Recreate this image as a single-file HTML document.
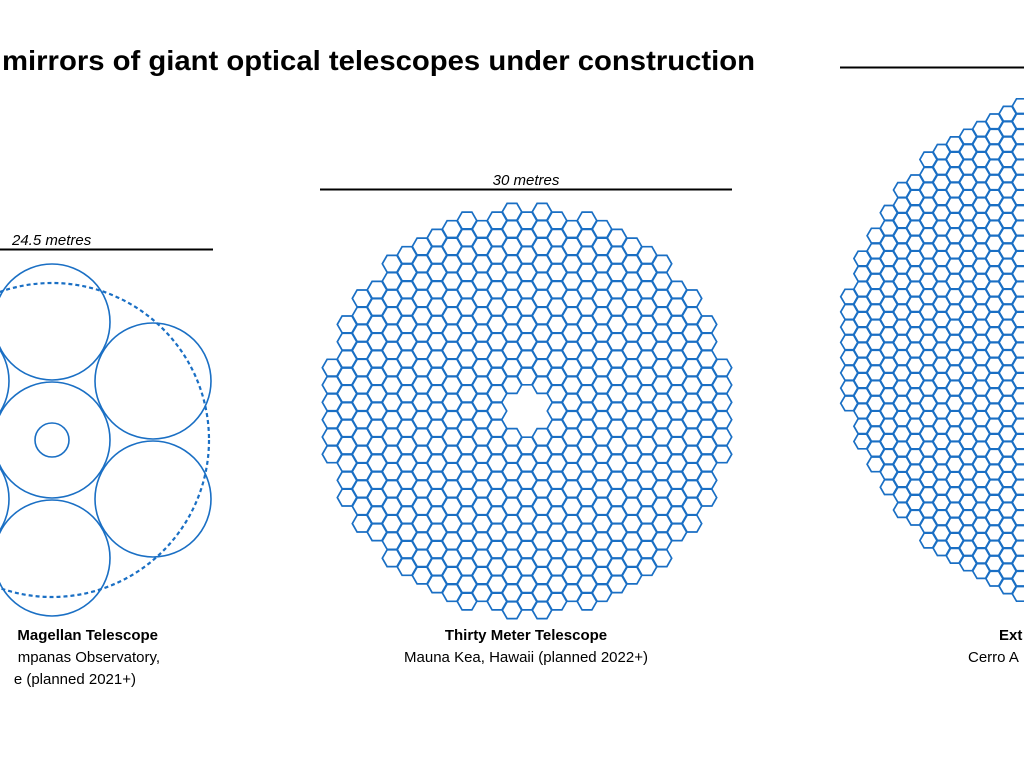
<!DOCTYPE html>
<html><head><meta charset="utf-8"><style>
body{margin:0;background:#fff;width:1024px;height:768px;overflow:hidden}
svg{display:block}
text{font-family:"Liberation Sans",sans-serif;fill:#000}
</style></head><body>
<svg id="s" width="1024" height="768" viewBox="0 0 1024 768" xmlns="http://www.w3.org/2000/svg">
<text x="2" y="70" font-size="28" font-weight="bold" textLength="753" lengthAdjust="spacingAndGlyphs">mirrors of giant optical telescopes under construction</text>
<line x1="840" y1="67.5" x2="1024" y2="67.5" stroke="#000" stroke-width="2"/>
<line x1="0" y1="249.5" x2="213" y2="249.5" stroke="#000" stroke-width="2"/>
<text x="12" y="245" font-size="15" font-style="italic">24.5 metres</text>
<line x1="320" y1="189.5" x2="732" y2="189.5" stroke="#000" stroke-width="2"/>
<text x="526" y="185" font-size="15" font-style="italic" text-anchor="middle">30 metres</text>
<g fill="none" stroke="#1a6fc4" stroke-width="1.6">
<circle cx="52" cy="440" r="58"/>
<circle cx="52" cy="440" r="17"/>
<circle cx="52" cy="322" r="58"/>
<circle cx="52" cy="558" r="58"/>
<circle cx="153" cy="381" r="58"/>
<circle cx="153" cy="499" r="58"/>
<circle cx="-49" cy="381" r="58"/>
<circle cx="-49" cy="499" r="58"/>
<circle cx="52" cy="440" r="157" stroke-dasharray="4 3" stroke-width="2.2"/>
</g>
<g id="hex" fill="none" stroke="#1a6fc4" stroke-width="1.7"></g>
<text x="158" y="640" font-size="15" font-weight="bold" text-anchor="end">Magellan Telescope</text>
<text x="160" y="662" font-size="15" text-anchor="end">mpanas Observatory,</text>
<text x="136" y="684" font-size="15" text-anchor="end">e (planned 2021+)</text>
<text x="526" y="640" font-size="15" font-weight="bold" text-anchor="middle">Thirty Meter Telescope</text>
<text x="526" y="662" font-size="15" text-anchor="middle">Mauna Kea, Hawaii (planned 2022+)</text>
<text x="999" y="640" font-size="15" font-weight="bold">Ext</text>
<text x="968" y="662" font-size="15">Cerro A</text>
</svg>
<script>
(function(){
var g=document.getElementById('hex');var d='';
function grid(cx,cy,R,rad,hole){
 var dx=1.5*R,dy=Math.sqrt(3)*R;
 for(var i=-40;i<=40;i++){for(var j=-40;j<=40;j++){
  var x=cx+i*dx,y=cy+j*dy+((i&1)?dy/2:0);
  var r=Math.hypot(x-cx,y-cy);
  if(r>rad)continue;
  if(hole&&Math.hypot(x-hole[0],y-hole[1])<hole[2])continue;
  var r2=R-0.3;
  d+='M'+(x+r2).toFixed(1)+' '+y.toFixed(1);
  for(var k=1;k<6;k++){var a=k*Math.PI/3;d+='L'+(x+r2*Math.cos(a)).toFixed(1)+' '+(y+r2*Math.sin(a)).toFixed(1);}
  d+='Z';
 }}
}
grid(527,411,10,200,[527,411,19]);
grid(1100,350,8.8,259,null);
var p=document.createElementNS('http://www.w3.org/2000/svg','path');p.setAttribute('d',d);g.appendChild(p);
})();
</script>
</body></html>
